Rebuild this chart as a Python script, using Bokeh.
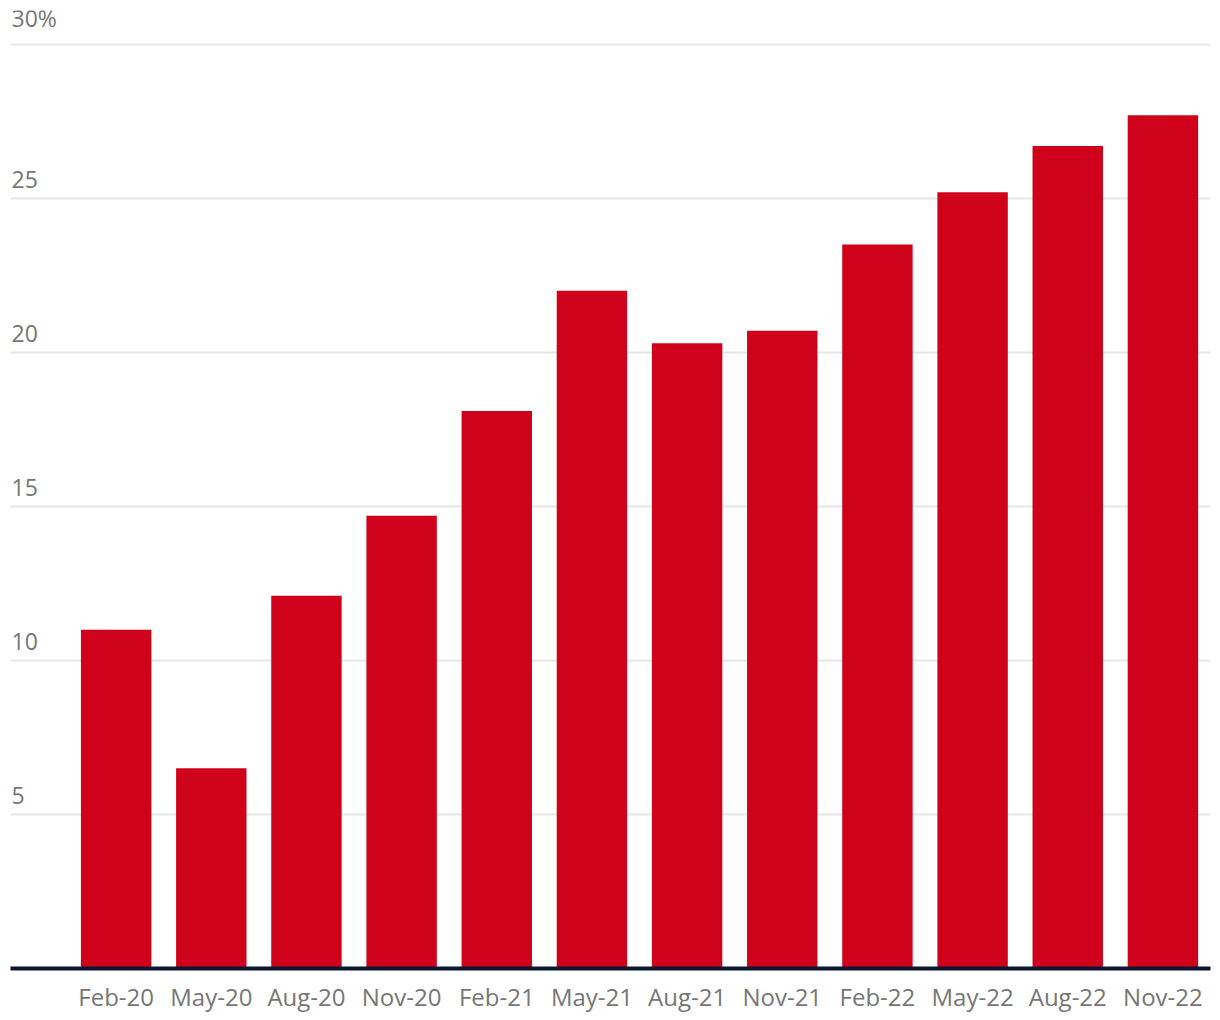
from bokeh.plotting import figure
from bokeh.models import Range1d, FixedTicker, ColumnDataSource
from bokeh.core.properties import value
from bokeh.embed import file_html
from bokeh.resources import INLINE

categories = ["Feb-20", "May-20", "Aug-20", "Nov-20", "Feb-21", "May-21",
              "Aug-21", "Nov-21", "Feb-22", "May-22", "Aug-22", "Nov-22"]
values = [11.0, 6.5, 12.1, 14.7, 18.1, 22.0, 20.3, 20.7, 23.5, 25.2, 26.7, 27.7]
y_ticks = [5, 10, 15, 20, 25, 30]
y_tick_labels = ["5", "10", "15", "20", "25", "30%"]

FONT = "Open Sans"
GRAY = "#767676"

x_idx = list(range(len(categories)))
x_start = -1.11
p = figure(width=1220, height=1020, output_backend="svg", toolbar_location=None,
           x_range=Range1d(x_start, len(categories) - 0.5),
           y_range=Range1d(0, 31.1),
           min_border_left=10, min_border_right=10, min_border_top=10,
           min_border_bottom=52)
p.outline_line_color = None
p.background_fill_color = "white"
p.border_fill_color = "white"

p.yaxis.visible = False
p.xgrid.visible = False
p.ygrid.ticker = FixedTicker(ticks=y_ticks)
p.ygrid.grid_line_color = "#e6e6e6"
p.ygrid.grid_line_width = 2

src = ColumnDataSource(dict(x=x_idx, top=values))
p.vbar(x="x", top="top", width=0.74, source=src, fill_color="#d0021b",
       line_color=None)

lab = ColumnDataSource(dict(x=[x_start] * len(y_ticks), y=y_ticks, t=y_tick_labels))
p.text(x="x", y="y", text="t", source=lab, x_offset=1, y_offset=-10,
       text_baseline="bottom", text_align="left", text_color=GRAY,
       text_font=value(FONT), text_font_size="23px")

ax = p.xaxis[0]
ax.ticker = FixedTicker(ticks=x_idx)
ax.major_label_overrides = {i: c for i, c in zip(x_idx, categories)}
ax.axis_line_color = "#0d1630"
ax.axis_line_width = 4
ax.major_tick_line_color = None
ax.minor_tick_line_color = None
ax.major_label_text_font = FONT
ax.major_label_text_font_size = "24px"
ax.major_label_text_color = GRAY
ax.major_label_standoff = 5

open("out.html", "w").write(file_html(p, INLINE))
